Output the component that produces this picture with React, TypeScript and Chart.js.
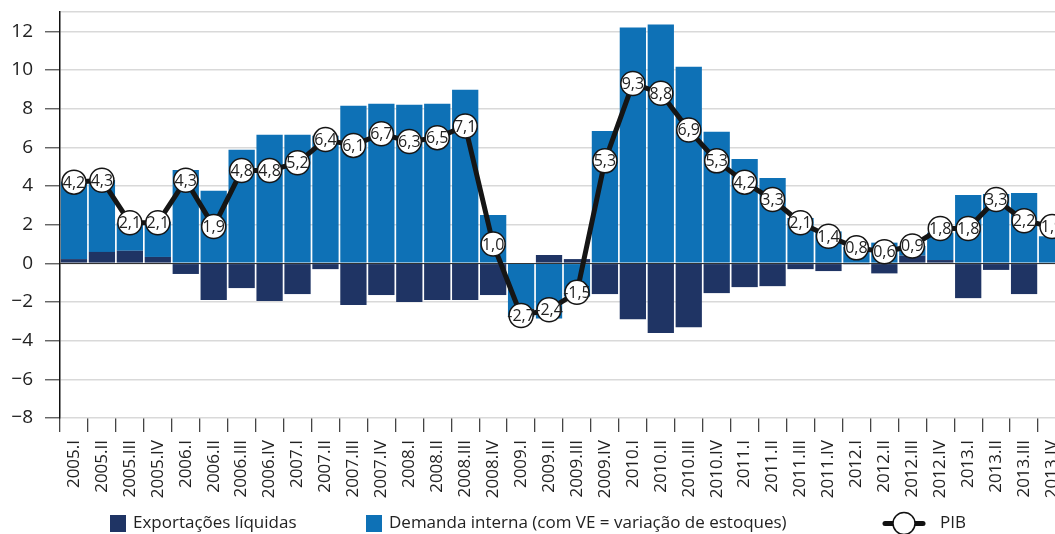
import React, { useEffect, useRef } from 'react';
import { Chart, registerables } from 'chart.js';

Chart.register(...registerables);

const categories = [
  '2005.I', '2005.II', '2005.III', '2005.IV',
  '2006.I', '2006.II', '2006.III', '2006.IV',
  '2007.I', '2007.II', '2007.III', '2007.IV',
  '2008.I', '2008.II', '2008.III', '2008.IV',
  '2009.I', '2009.II', '2009.III', '2009.IV',
  '2010.I', '2010.II', '2010.III', '2010.IV',
  '2011.I', '2011.II', '2011.III', '2011.IV',
  '2012.I', '2012.II', '2012.III', '2012.IV',
  '2013.I', '2013.II', '2013.III', '2013.IV',
];

const exportacoesLiquidas = [
  0.22, 0.59, 0.65, 0.33,
  -0.55, -1.9, -1.28, -1.95,
  -1.59, -0.3, -2.16, -1.64,
  -2.0, -1.9, -1.9, -1.64,
  0.0, 0.43, 0.22, -1.59,
  -2.89, -3.6, -3.3, -1.54,
  -1.23, -1.18, -0.3, -0.4,
  -0.05, -0.52, 0.4, 0.17,
  -1.8, -0.34, -1.59, 0.0,
];

const demandaInterna = [
  4.0, 3.72, 1.45, 1.83,
  4.83, 3.75, 5.87, 6.65,
  6.65, 6.6, 8.15, 8.25,
  8.2, 8.25, 8.98, 2.5,
  -2.77, -2.85, -1.72, 6.85,
  12.2, 12.35, 10.17, 6.8,
  5.4, 4.42, 2.35, 1.65,
  0.85, 1.07, 0.5, 1.42,
  3.54, 3.59, 3.64, 1.4,
];

const pib = [
  4.2, 4.3, 2.1, 2.1,
  4.3, 1.9, 4.8, 4.8,
  5.2, 6.4, 6.1, 6.7,
  6.3, 6.5, 7.1, 1.0,
  -2.7, -2.4, -1.5, 5.3,
  9.3, 8.8, 6.9, 5.3,
  4.2, 3.3, 2.1, 1.4,
  0.8, 0.6, 0.9, 1.8,
  1.8, 3.3, 2.2, 1.9,
];

const yTickValues = [-8, -6, -4, -2, 0, 2, 4, 6, 8, 10, 12];
const yMin = -8;
const yMax = 13;

const legendLabels = [
  'Exportações líquidas',
  'Demanda interna (com VE = variação de estoques)',
  'PIB',
];

const NAVY = '#1F3464';
const BLUE = '#0E71B6';
const FONT = '"Open Sans", "Noto Sans", sans-serif';

const fmt = (v: number) => v.toFixed(1).replace('.', ',');

const zeroLinePlugin = {
  id: 'zeroLine',
  beforeDatasetDraw(chart: any, args: any) {
    if (args.index !== 2) return;
    const { ctx, chartArea, scales } = chart;
    const y = Math.round(scales.y.getPixelForValue(0)) + 0.5;
    ctx.save();
    ctx.strokeStyle = '#333';
    ctx.lineWidth = 1.2;
    ctx.beginPath();
    ctx.moveTo(chartArea.left, y);
    ctx.lineTo(chartArea.right, y);
    ctx.stroke();
    ctx.restore();
  },
};

const pointLabelPlugin = {
  id: 'pointLabels',
  afterDatasetsDraw(chart: any) {
    const meta = chart.getDatasetMeta(2);
    const ctx = chart.ctx;
    ctx.save();
    ctx.font = `16px ${FONT}`;
    ctx.fillStyle = '#222';
    ctx.textAlign = 'center';
    ctx.textBaseline = 'middle';
    meta.data.forEach((pt: any, i: number) => {
      ctx.fillText(fmt(pib[i]), pt.x, pt.y + 1);
    });
    ctx.restore();
  },
};

const legendPlugin = {
  id: 'customLegend',
  afterDraw(chart: any) {
    const ctx = chart.ctx;
    const cy = 523.5;
    ctx.save();
    ctx.font = `17px ${FONT}`;
    ctx.textBaseline = 'middle';
    ctx.textAlign = 'left';
    ctx.fillStyle = NAVY;
    ctx.fillRect(110, 515, 16, 17);
    ctx.fillStyle = '#222';
    ctx.fillText(legendLabels[0], 133, cy);
    ctx.fillStyle = BLUE;
    ctx.fillRect(366, 515, 16, 17);
    ctx.fillStyle = '#222';
    ctx.fillText(legendLabels[1], 389, cy);
    ctx.strokeStyle = '#111';
    ctx.lineWidth = 5;
    ctx.lineCap = 'round';
    ctx.beginPath();
    ctx.moveTo(885, cy);
    ctx.lineTo(923, cy);
    ctx.stroke();
    ctx.beginPath();
    ctx.arc(904, cy, 11, 0, Math.PI * 2);
    ctx.fillStyle = '#fff';
    ctx.fill();
    ctx.lineWidth = 1.5;
    ctx.stroke();
    ctx.fillStyle = '#222';
    ctx.fillText(legendLabels[2], 940, cy);
    ctx.restore();
  },
};

export default function App() {
  const canvasRef = useRef<HTMLCanvasElement | null>(null);

  useEffect(() => {
    const canvas = canvasRef.current;
    if (!canvas) return;
    const chart = new Chart(canvas, {
      type: 'bar',
      data: {
        labels: categories,
        datasets: [
          {
            type: 'bar',
            label: legendLabels[0],
            data: exportacoesLiquidas,
            backgroundColor: NAVY,
            borderWidth: 0,
            stack: 'bars',
            order: 1,
            barPercentage: 0.94,
            categoryPercentage: 1,
          },
          {
            type: 'bar',
            label: legendLabels[1],
            data: demandaInterna,
            backgroundColor: BLUE,
            borderWidth: 0,
            stack: 'bars',
            order: 2,
            barPercentage: 0.94,
            categoryPercentage: 1,
          },
          {
            type: 'line',
            label: legendLabels[2],
            data: pib,
            stack: 'pib',
            order: 0,
            borderColor: '#151515',
            borderWidth: 5,
            borderJoinStyle: 'round',
            tension: 0,
            pointRadius: 12,
            pointBackgroundColor: '#fff',
            pointBorderColor: '#151515',
            pointBorderWidth: 1.5,
            clip: false,
          } as any,
        ],
      },
      options: {
        responsive: false,
        animation: false,
        devicePixelRatio: 1,
        events: [],
        layout: { autoPadding: false, padding: { top: 12, bottom: 26, left: 0, right: 0 } },
        plugins: {
          legend: { display: false },
          tooltip: { enabled: false },
        },
        scales: {
          x: {
            type: 'category',
            offset: true,
            stacked: true,
            grid: {
              offset: true,
              drawOnChartArea: false,
              drawTicks: true,
              tickLength: 14,
              color: '#444',
              lineWidth: 1.3,
            },
            border: { display: false },
            ticks: {
              autoSkip: false,
              maxRotation: 90,
              minRotation: 90,
              padding: 8,
              color: '#222',
              font: { family: FONT, size: 17 },
            },
            afterFit: (scale: any) => {
              scale.height = 90;
              scale.paddingLeft = 0;
              scale.paddingRight = 0;
            },
          },
          y: {
            type: 'linear',
            stacked: true,
            min: yMin,
            max: yMax,
            afterBuildTicks: (scale: any) => {
              scale.ticks = [...yTickValues, yMax].map((v) => ({ value: v }));
            },
            afterFit: (scale: any) => {
              scale.width = 60;
              scale.paddingTop = 0;
              scale.paddingBottom = 0;
            },
            grid: {
              color: '#d9d9d9',
              lineWidth: 1.5,
              tickColor: (c: any) => (c.tick && c.tick.value === yMax ? 'rgba(0,0,0,0)' : '#555'),
              tickLength: 15,
              tickWidth: 1.3,
            },
            border: { display: true, color: '#111', width: 1.5 },
            ticks: {
              padding: 12,
              color: '#222',
              font: { family: FONT, size: 19 },
              callback: (v: any) => {
                const n = Number(v);
                if (n === yMax) return '';
                return n < 0 ? '\u2212' + Math.abs(n) : String(n);
              },
            },
          },
        },
      },
      plugins: [zeroLinePlugin, pointLabelPlugin, legendPlugin],
    });
    return () => chart.destroy();
  }, []);

  return (
    <div
      style={{
        position: 'fixed',
        left: 0,
        top: 0,
        width: 1055,
        height: 534,
        overflow: 'hidden',
        background: '#fff',
      }}
    >
      <canvas
        ref={canvasRef}
        width={1066}
        height={534}
        style={{ display: 'block', width: 1066, height: 534 }}
      />
    </div>
  );
}
